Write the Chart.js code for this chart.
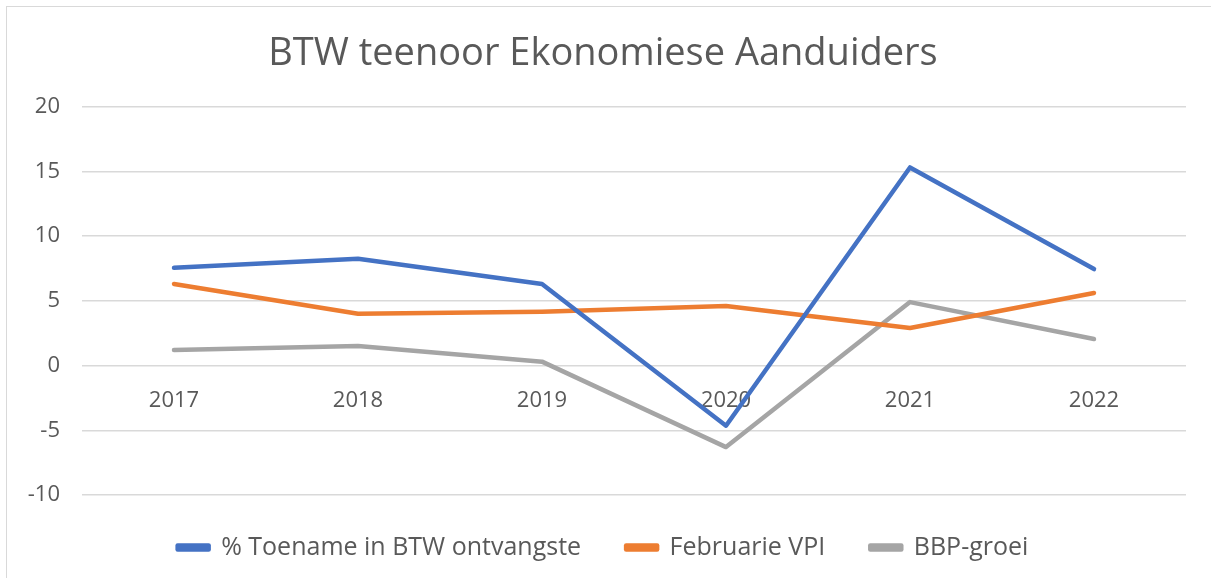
<!DOCTYPE html>
<html>
<head>
<meta charset="utf-8">
<script src="https://cdn.jsdelivr.net/npm/chart.js@4.4.0/dist/chart.umd.min.js"></script>
<style>
  html, body { margin: 0; padding: 0; background: #fff; }
  #wrap { position: relative; width: 1211px; height: 578px; }
  #frame { position: absolute; left: 6px; top: 6px; width: 1220px; height: 600px; border: 1px solid #d9d9d9; box-sizing: border-box; }
  canvas { position: absolute; left: 0; top: 0; }
</style>
</head>
<body>
<div id="wrap">
  <div id="frame"></div>
  <canvas id="myChart" width="1211" height="578"></canvas>
</div>
<script>
  // years on the x axis
  const years = ["2017", "2018", "2019", "2020", "2021", "2022"];

  // series values
  const btwGrowth = [7.55, 8.25, 6.3, -4.65, 15.3, 7.45];
  const februaryCpi = [6.3, 4.0, 4.15, 4.6, 2.9, 5.6];
  const gdpGrowth = [1.2, 1.5, 0.3, -6.3, 4.9, 2.05];

  const seriesNames = ["% Toename in BTW ontvangste", "Februarie VPI", "BBP-groei"];
  const seriesColors = ["#4472C4", "#ED7D31", "#A5A5A5"];

  const yMin = -10;
  const yMax = 20;
  const yStep = 5;

  const fontFamily = "'Open Sans', 'DejaVu Sans', sans-serif";
  const textColor = "#595959";

  function makeSet(i, values) {
      return {
          label: seriesNames[i],
          data: values,
          borderColor: seriesColors[i],
          backgroundColor: seriesColors[i],
          borderWidth: 4.5,
          borderCapStyle: "round",
          borderJoinStyle: "round",
          pointRadius: 0,
          tension: 0,
          fill: false
      };
  }

  new Chart("myChart", {
      type: "line",
      data: {
          labels: years,
          datasets: [
              makeSet(0, btwGrowth),
              makeSet(1, februaryCpi),
              makeSet(2, gdpGrowth)
          ]
      },
      options: {
          responsive: false,
          animation: false,
          layout: {
              padding: { top: 14, right: 25, bottom: 8, left: 20 }
          },
          plugins: {
              title: {
                  display: true,
                  text: "BTW teenoor Ekonomiese Aanduiders",
                  color: textColor,
                  font: { family: fontFamily, size: 38, weight: "normal" },
                  padding: { top: 17, bottom: 30 }
              },
              legend: {
                  position: "bottom",
                  // empty legend title only adds room above the legend row
                  title: {
                      display: true,
                      text: "",
                      font: { size: 10 },
                      padding: { top: 0, bottom: 8 }
                  },
                  labels: {
                      color: textColor,
                      font: { family: fontFamily, size: 25 },
                      boxWidth: 31,
                      boxHeight: 4,
                      padding: 20,
                      generateLabels: function (chart) {
                          const items = Chart.defaults.plugins.legend.labels.generateLabels(chart);
                          // wider gap between entries, like the original legend
                          items.forEach(function (item, i) {
                              if (i < items.length - 1) item.text = item.text + "\u2003";
                          });
                          return items;
                      }
                  }
              },
              tooltip: { enabled: false }
          },
          scales: {
              x: {
                  position: { y: 0 },
                  offset: true,
                  grid: { display: false },
                  border: { display: false },
                  ticks: {
                      color: textColor,
                      font: { family: fontFamily, size: 22 },
                      padding: 14
                  }
              },
              y: {
                  min: yMin,
                  max: yMax,
                  afterFit: function (axis) { axis.width = 62; },
                  grid: { color: "#d9d9d9", lineWidth: 1.5, drawTicks: false },
                  border: { display: false },
                  ticks: {
                      stepSize: yStep,
                      color: textColor,
                      font: { family: fontFamily, size: 22 },
                      padding: 22
                  }
              }
          }
      }
  });
</script>
</body>
</html>
